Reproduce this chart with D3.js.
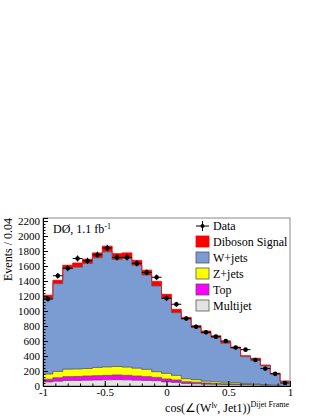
<!DOCTYPE html>
<html><head><meta charset="utf-8">
<script src="https://cdn.jsdelivr.net/npm/d3@7"></script>
<style>body{margin:0;background:#fff}svg{display:block}text{font-family:"Liberation Serif","Times New Roman",serif;fill:#000}</style>
</head><body>
<script>
// 25 bins of width 0.08 from -1 to 1
const binEdges = d3.range(26).map(i => -1 + i * 0.08);
const dataCounts = [1160,1470,1570,1700,1670,1750,1840,1715,1715,1635,1515,1450,1170,1090,900,790,716,658,600,513,485,347,232,162,40];
const multijet = [55,65,75,75,78,80,82,85,82,78,75,70,55,48,35,30,25,22,20,18,14,12,8,5,2];
const topQuark = [35,45,50,52,55,58,60,62,60,55,50,45,38,32,22,20,15,12,10,8,6,5,3,2,1];
const zjets = [70,85,100,100,100,110,112,113,110,105,97,76,76,62,40,35,25,22,20,18,14,12,8,5,2];
const wjets = [1005,1170,1340,1358,1400,1462,1536,1427,1448,1372,1258,1144,1001,836,792,694,638,589,520,458,358,331,253,153,57];
const diboson = [45,45,45,55,57,65,75,78,75,65,65,60,52,44,26,26,30,25,20,18,13,10,8,5,4];
const seriesNames = ["Multijet","Top","Z+jets","W+jets","Diboson Signal"];
const seriesColors = {"Multijet":"#e3e3e3","Top":"#ff00ff","Z+jets":"#ffff00","W+jets":"#7b9bd3","Diboson Signal":"#ff0000"};
const yTicks = d3.range(0, 2201, 200);
const xTicks = [-1,-0.5,0,0.5,1];

const W = 322, H = 416;
const svg = d3.select("body").append("svg").attr("width", W).attr("height", H);
const x = d3.scaleLinear().domain([-1, 1]).range([43, 290]);
const y = d3.scaleLinear().domain([0, 2240]).range([386, 218]);

const rows = binEdges.slice(0, 25).map((e, i) => ({
  lo: e, "Multijet": multijet[i], "Top": topQuark[i], "Z+jets": zjets[i], "W+jets": wjets[i], "Diboson Signal": diboson[i]
}));
rows.push(Object.assign({}, rows[24], {lo: 1}));
const stack = d3.stack().keys(seriesNames)(rows);

const area = d3.area().x(d => x(d.data.lo)).y0(d => y(d[0])).y1(d => y(d[1])).curve(d3.curveStepAfter);
const line = d3.line().x(d => x(d.data.lo)).y(d => y(d[1])).curve(d3.curveStepAfter);
const g = svg.append("g");
stack.forEach(s => {
  g.append("path").attr("d", area(s)).attr("fill", seriesColors[s.key]).attr("stroke", "none");
});
stack.forEach(s => {
  const outline = s.key === "Diboson Signal" ? "#ff0000" : "#555";
  g.append("path").attr("d", line(s)).attr("fill", "none").attr("stroke", outline).attr("stroke-width", 0.8);
});
const last = stack[stack.length - 1];
g.append("line").attr("x1", x(1)).attr("x2", x(1)).attr("y1", y(last[24][1])).attr("y2", y(0)).attr("stroke", "#555").attr("stroke-width", 0.8);

// data points
const dg = svg.append("g");
dataCounts.forEach((v, i) => {
  const cx = x(binEdges[i] + 0.04), err = Math.sqrt(v);
  dg.append("line").attr("x1", x(binEdges[i])).attr("x2", x(binEdges[i + 1])).attr("y1", y(v)).attr("y2", y(v)).attr("stroke", "#000").attr("stroke-width", 1);
  dg.append("line").attr("x1", cx).attr("x2", cx).attr("y1", y(v - err)).attr("y2", y(v + err)).attr("stroke", "#000").attr("stroke-width", 1);
  dg.append("circle").attr("cx", cx).attr("cy", y(v)).attr("r", 2.3).attr("fill", "#000");
});

// frame
svg.append("rect").attr("x", 43).attr("y", 218).attr("width", 247).attr("height", 168).attr("fill", "none").attr("stroke", "#888").attr("stroke-width", 1);

// axes
svg.append("g").attr("transform", "translate(43,0)")
  .call(d3.axisLeft(y).tickValues(yTicks).tickSize(-5).tickPadding(3).tickFormat(d3.format("d")));
svg.append("g").attr("transform", "translate(43,0)")
  .call(d3.axisLeft(y).tickValues(d3.range(0, 2240, 40)).tickSize(-2.5).tickFormat(""));
const xAxis = svg.append("g").attr("transform", "translate(0,386)")
  .call(d3.axisBottom(x).tickValues(xTicks).tickSize(-5).tickPadding(2).tickFormat(d => String(d)));
svg.append("g").attr("transform", "translate(0,386)")
  .call(d3.axisBottom(x).tickValues(d3.range(-1, 1.001, 0.1)).tickSize(-2.5).tickFormat(""));
svg.selectAll(".domain").attr("stroke", "#000");
svg.selectAll(".tick line").attr("stroke", "#000");
svg.selectAll(".tick text").style("font-family", "Liberation Serif").style("font-size", "11px").attr("fill", "#000");
xAxis.selectAll(".tick text").attr("dy", "0.71em");

// axis titles
svg.append("text").attr("transform", "translate(12,218) rotate(-90)").attr("text-anchor", "end")
  .style("font-size", "12px").text("Events / 0.04");
const xt = svg.append("text").attr("x", 289).attr("y", 412).attr("text-anchor", "end").style("font-size", "12px");
xt.append("tspan").text("cos(\u2220(W");
xt.append("tspan").attr("dy", -4).style("font-size", "8px").text("l\u03bd");
xt.append("tspan").attr("dy", 4).text(", Jet1))");
xt.append("tspan").attr("dy", -5).style("font-size", "8px").text("Dijet Frame");

// DØ label
const dl = svg.append("text").attr("x", 53).attr("y", 233).style("font-size", "12px");
dl.append("tspan").text("D\u00d8, 1.1 fb");
dl.append("tspan").attr("dy", -4).style("font-size", "8px").text("-1");

// legend
const legendItems = ["Data","Diboson Signal","W+jets","Z+jets","Top","Multijet"];
const lg = svg.append("g");
legendItems.forEach((name, i) => {
  const cy = 226 + i * 16;
  if (name === "Data") {
    lg.append("line").attr("x1", 196).attr("x2", 209).attr("y1", cy).attr("y2", cy).attr("stroke", "#000");
    lg.append("line").attr("x1", 202.5).attr("x2", 202.5).attr("y1", cy - 5).attr("y2", cy + 5).attr("stroke", "#000");
    lg.append("circle").attr("cx", 202.5).attr("cy", cy).attr("r", 2).attr("fill", "#000");
  } else {
    lg.append("rect").attr("x", 196).attr("y", cy - 6).attr("width", 13).attr("height", 11)
      .attr("fill", seriesColors[name]).attr("stroke", name === "Diboson Signal" ? "#ff0000" : "#555").attr("stroke-width", 0.8);
  }
  lg.append("text").attr("x", 213).attr("y", cy + 4).style("font-size", "12px").text(name);
});
</script>
</body></html>
